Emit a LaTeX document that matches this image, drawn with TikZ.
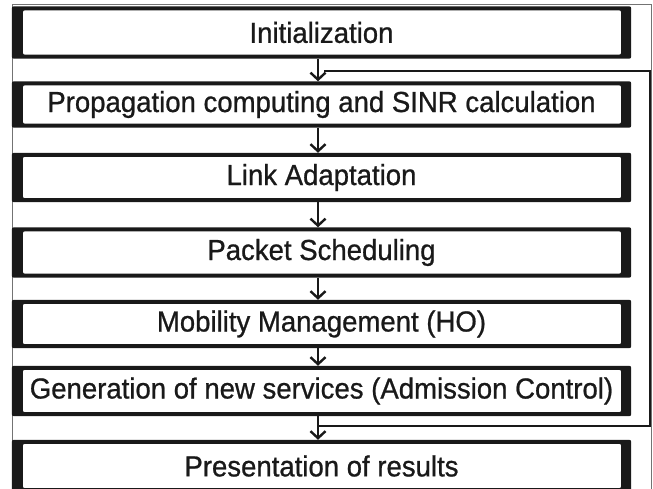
\documentclass[tikz,border=0pt]{standalone}
\usepackage{fontspec}
\setmainfont{Liberation Sans}
\newfontfamily\boxfont[FakeBold=0.8,FakeStretch=0.95]{Liberation Sans}
\usetikzlibrary{arrows.meta}
\begin{document}
\begin{tikzpicture}[x=1pt,y=-1pt,
  stepbox/.style={rectangle,minimum width=619pt,inner sep=0pt,font=\boxfont\fontsize{29}{32}\selectfont,text=black!90},
  flow/.style={line width=2.6pt,black!90},
  arr/.style={flow,-{Straight Barb[length=7pt,width=15pt,line width=2.4pt]}}]
\useasboundingbox (0,0) rectangle (653,488);
\clip (0,0) rectangle (653,488);
% outer frame
\draw[black!55,line width=0.9pt] (12,4) -- (651,4) -- (651,495) (12,4) -- (12,495);
% boxes
\node[stepbox,minimum height=52pt] (n1) at (321.5,32.5) {Initialization};
\node[stepbox,minimum height=46pt] (n2) at (321.5,104.5) {Propagation computing and SINR calculation};
\node[stepbox,minimum height=49pt] (n3) at (321.5,177.5) {Link Adaptation};
\node[stepbox,minimum height=50pt] (n4) at (321.5,252.5) {Packet Scheduling};
\node[stepbox,minimum height=48pt] (n5) at (321.5,324) {Mobility Management (HO)};
\node[stepbox,minimum height=50pt] (n6) at (321.5,391) {Generation of new services (Admission Control)};
\node[stepbox,minimum height=52pt] (n7) at (321.5,466) {Presentation of results};
\foreach \n in {n1,n2,n3,n4,n5,n6,n7}{
  \fill[black!90,even odd rule,rounded corners=2pt] (\n.north west) rectangle (\n.south east)
    ([shift={(11,4)}]\n.north west) rectangle ([shift={(-10,-4)}]\n.south east);
}
% arrows
\coordinate (a) at (318,0);
\draw[arr] (n1.south -| a) -- (n2.north -| a);
\draw[arr] (n2.south -| a) -- (n3.north -| a);
\draw[arr] (n3.south -| a) -- (n4.north -| a);
\draw[arr] (n4.south -| a) -- (n5.north -| a);
\draw[arr] (n5.south -| a) -- (n6.north -| a);
\draw[arr] (n6.south -| a) -- (n7.north -| a);
% feedback loop
\coordinate (b1) at (318,426);
\coordinate (b2) at (650,426);
\coordinate (t2) at (650,71);
\coordinate (t1) at (324,71);
\draw[flow,line join=miter] (b1) -- (b2) -- (t2) -- (t1);
\end{tikzpicture}
\end{document}
